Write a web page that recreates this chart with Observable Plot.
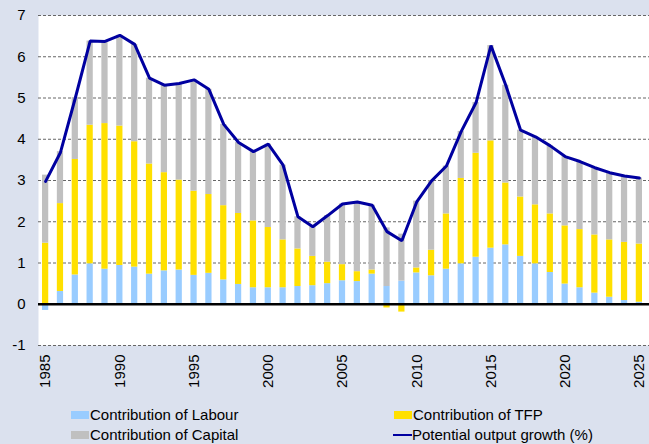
<!DOCTYPE html>
<html>
<head>
<meta charset="utf-8">
<script src="https://cdn.jsdelivr.net/npm/d3@7"></script>
<script src="https://cdn.jsdelivr.net/npm/@observablehq/plot@0.6"></script>
<style>
  html, body { margin: 0; padding: 0; background: #dbe1ee; }
  #wrap { position: relative; width: 649px; height: 444px; background: #dbe1ee; font-family: "Liberation Sans", Arial, sans-serif; }
  #legend { position: absolute; left: 0; top: 400px; width: 649px; height: 44px; font-size: 15px; color: #000; }
  .item { position: absolute; height: 20px; line-height: 20px; white-space: nowrap; }
  .sw { position: absolute; left: 0; top: 6px; width: 18px; height: 8px; }
  .ln { position: absolute; left: 0; top: 9px; width: 19px; height: 2px; }
  .lbl { position: absolute; left: 19px; top: 0; }
</style>
</head>
<body>
<div id="wrap">
  <div id="chart"></div>
  <div id="legend"></div>
</div>
<script>
const years = [1985,1986,1987,1988,1989,1990,1991,1992,1993,1994,1995,1996,1997,1998,1999,2000,2001,2002,2003,2004,2005,2006,2007,2008,2009,2010,2011,2012,2013,2014,2015,2016,2017,2018,2019,2020,2021,2022,2023,2024,2025];
const labour = [-0.15,0.31,0.71,0.98,0.85,0.94,0.90,0.73,0.81,0.83,0.70,0.75,0.59,0.48,0.40,0.40,0.40,0.43,0.45,0.50,0.57,0.55,0.73,0.43,0.56,0.76,0.69,0.85,0.98,1.14,1.36,1.44,1.16,0.98,0.77,0.49,0.40,0.27,0.17,0.09,0.05];
const tfp = [1.48,2.13,2.80,3.36,3.53,3.38,3.04,2.67,2.38,2.18,2.04,1.91,1.80,1.72,1.62,1.46,1.16,0.91,0.71,0.52,0.39,0.24,0.10,-0.09,-0.19,0.12,0.62,1.34,2.07,2.52,2.60,1.50,1.44,1.43,1.42,1.41,1.41,1.41,1.39,1.41,1.41];
const capital = [1.65,1.26,1.50,2.04,1.98,2.20,2.36,2.08,2.12,2.34,2.70,2.55,1.97,1.72,1.68,2.02,1.81,0.78,0.72,1.13,1.47,1.69,1.57,1.42,1.14,1.62,1.68,1.16,1.14,1.23,2.31,2.37,1.62,1.65,1.65,1.68,1.65,1.63,1.63,1.61,1.60];
const potential = [2.98,3.68,5.00,6.38,6.37,6.52,6.30,5.48,5.31,5.35,5.44,5.21,4.36,3.92,3.70,3.88,3.37,2.12,1.88,2.15,2.43,2.48,2.40,1.76,1.54,2.48,2.99,3.35,4.19,4.89,6.27,5.31,4.22,4.06,3.84,3.58,3.46,3.31,3.19,3.11,3.06];

const seriesNames = ["Contribution of Labour", "Contribution of TFP", "Contribution of Capital"];
const seriesColors = ["#99ccff", "#ffe000", "#c0c0c0"];
const lineName = "Potential output growth (%)";
const lineColor = "#0000a0";
const yTicks = [-1,0,1,2,3,4,5,6,7];
const xTickYears = [1985,1990,1995,2000,2005,2010,2015,2020,2025];

const rows = [];
years.forEach((yr, i) => {
  rows.push({year: yr, series: seriesNames[0], value: labour[i]});
  rows.push({year: yr, series: seriesNames[1], value: tfp[i]});
  rows.push({year: yr, series: seriesNames[2], value: capital[i]});
});
const lineRows = years.map((yr, i) => ({year: yr, value: potential[i]}));

const chart = Plot.plot({
  width: 649,
  height: 400,
  marginTop: 15,
  marginBottom: 55,
  marginLeft: 38,
  marginRight: 0,
  style: {background: "transparent", fontFamily: "'Liberation Sans', Arial, sans-serif", fontSize: "15px", color: "#000", overflow: "visible"},
  x: {type: "band", domain: years, range: [42, 642], paddingInner: 0.58, paddingOuter: 0, label: null},
  y: {domain: [-1, 7], label: null},
  color: {domain: seriesNames, range: seriesColors},
  marks: [
    Plot.frame({fill: "white", stroke: "none"}),
    Plot.ruleY(yTicks.filter(d => d !== 0), {stroke: "#666", strokeDasharray: "3,2", strokeWidth: 1}),
    Plot.barY(rows, {x: "year", y: "value", fill: "series", order: seriesNames}),
    Plot.ruleY([0], {stroke: "#000", strokeWidth: 2.5}),
    Plot.lineY(lineRows, {x: "year", y: "value", stroke: lineColor, strokeWidth: 3, strokeLinejoin: "miter"}),
    Plot.axisY({ticks: yTicks, tickSize: 0, tickPadding: 13, tickFormat: d => String(d), fontSize: 15}),
    Plot.axisX({ticks: xTickYears, tickSize: 0, tickPadding: 9, tickRotate: -90, tickFormat: d => String(d), fontSize: 15})
  ]
});
document.getElementById("chart").appendChild(chart);

const legend = document.getElementById("legend");
const items = [
  {name: seriesNames[0], color: seriesColors[0], type: "sw", left: 71, top: 5},
  {name: seriesNames[1], color: seriesColors[1], type: "sw", left: 394, top: 5},
  {name: seriesNames[2], color: seriesColors[2], type: "sw", left: 71, top: 25},
  {name: lineName, color: lineColor, type: "ln", left: 393, top: 25}
];
items.forEach(it => {
  const div = document.createElement("div");
  div.className = "item";
  div.style.left = it.left + "px";
  div.style.top = it.top + "px";
  const sw = document.createElement("span");
  sw.className = it.type;
  sw.style.background = it.color;
  const lb = document.createElement("span");
  lb.className = "lbl";
  lb.textContent = it.name;
  div.appendChild(sw);
  div.appendChild(lb);
  legend.appendChild(div);
});
</script>
</body>
</html>
